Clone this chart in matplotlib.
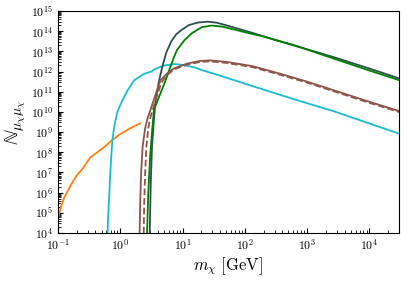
import numpy as np
import matplotlib
matplotlib.use("Agg")
import matplotlib.pyplot as plt
from matplotlib.ticker import LogLocator, FuncFormatter, NullFormatter

plt.rcParams['mathtext.fontset'] = 'cm'
plt.rcParams['font.family'] = 'serif'

# log10(m_chi / GeV) and log10(N)
orange_lm = [-1.0, -0.95, -0.9, -0.85, -0.78, -0.7, -0.6, -0.48, -0.3, -0.13, 0.0, 0.15, 0.32]
orange_lN = [4.75, 5.3, 5.75, 6.05, 6.45, 6.85, 7.2, 7.75, 8.15, 8.6, 8.9, 9.17, 9.43]

cyan_lm = [-0.207, -0.203, -0.195, -0.18, -0.16, -0.14, -0.127, -0.09, -0.046, 0.035,
           0.12, 0.225, 0.38, 0.5, 0.55, 0.62, 0.71, 0.87, 1.0, 1.2, 1.31, 1.6,
           2.12, 2.82, 3.42, 4.48]
cyan_lN = [3.5, 4.0, 4.8, 5.7, 7.0, 8.0, 8.6, 9.4, 10.0, 10.58,
           11.08, 11.57, 11.88, 12.0, 12.1, 12.2, 12.3, 12.37, 12.33, 12.2, 12.07, 11.8,
           11.28, 10.6, 10.04, 8.92]

slate_lm = [0.47, 0.473, 0.49, 0.51, 0.54, 0.565, 0.62, 0.68, 0.74, 0.82, 0.9, 0.98,
            1.1, 1.25, 1.4, 1.55, 1.75, 2.12, 2.5, 3.0, 3.42, 4.0, 4.48]
slate_lN = [3.5, 4.0, 6.5, 8.3, 9.6, 10.5, 11.5, 12.3, 12.95, 13.5, 13.85, 14.05,
            14.3, 14.43, 14.47, 14.42, 14.25, 13.92, 13.55, 13.1, 12.72, 12.15, 11.66]

green_lm = [0.427, 0.43, 0.45, 0.48, 0.51, 0.54, 0.63, 0.72, 0.86, 0.91, 1.03, 1.15,
            1.31, 1.47, 1.65, 2.0, 2.28, 2.8, 3.42, 4.0, 4.48]
green_lN = [3.5, 4.0, 6.0, 7.8, 9.0, 10.09, 10.8, 11.5, 12.7, 13.06, 13.55, 13.9,
            14.2, 14.28, 14.22, 13.95, 13.75, 13.3, 12.65, 12.05, 11.57]

brown_lm = [0.308, 0.311, 0.32, 0.335, 0.36, 0.4, 0.44, 0.484, 0.55, 0.645, 0.75, 0.86,
            1.08, 1.29, 1.45, 1.7, 2.12, 2.5, 3.0, 3.42, 4.0, 4.48]
brown_lN = [3.5, 4.0, 5.5, 7.0, 8.3, 9.2, 9.7, 10.09, 10.7, 11.57, 11.9, 12.15,
            12.4, 12.53, 12.55, 12.48, 12.27, 11.95, 11.5, 11.08, 10.5, 10.04]

brownd_lm = [0.373, 0.376, 0.385, 0.4, 0.42, 0.45, 0.49, 0.52, 0.58, 0.66, 0.75, 0.86,
             1.08, 1.29, 1.45, 1.7, 2.12, 2.5, 3.0, 3.42, 4.0, 4.48]
brownd_lN = [3.5, 4.0, 5.5, 7.0, 8.3, 9.2, 9.8, 10.09, 10.7, 11.45, 11.82, 12.1,
             12.35, 12.48, 12.5, 12.43, 12.22, 11.9, 11.45, 11.03, 10.45, 9.99]


def unlog(a):
    return 10.0 ** np.array(a)


fig = plt.figure(figsize=(4.07, 2.82), dpi=100)
ax = fig.add_axes([0.1425, 0.174, 0.838, 0.787])

lw = 1.3
ax.plot(unlog(orange_lm), unlog(orange_lN), color='#ff7f0e', lw=lw)
ax.plot(unlog(cyan_lm), unlog(cyan_lN), color='#17becf', lw=lw)
ax.plot(unlog(slate_lm), unlog(slate_lN), color='#2f4f4f', lw=lw)
ax.plot(unlog(green_lm), unlog(green_lN), color='green', lw=lw)
ax.plot(unlog(brown_lm), unlog(brown_lN), color='#8c564b', lw=lw)
ax.plot(unlog(brownd_lm), unlog(brownd_lN), color='#8c564b', lw=lw, ls='--')

ax.set_xscale('log')
ax.set_yscale('log')
ax.set_xlim(1e-1, 3e4)
ax.set_ylim(1e4, 1e15)

fmt = FuncFormatter(lambda v, p: r'$10^{%d}$' % round(np.log10(v)))
ax.xaxis.set_major_locator(LogLocator(base=10, numticks=20))
ax.yaxis.set_major_locator(LogLocator(base=10, numticks=20))
ax.xaxis.set_minor_locator(LogLocator(base=10, subs=np.arange(2, 10), numticks=20))
ax.yaxis.set_minor_locator(LogLocator(base=10, subs=np.arange(2, 10), numticks=20))
ax.xaxis.set_major_formatter(fmt)
ax.yaxis.set_major_formatter(fmt)
ax.xaxis.set_minor_formatter(NullFormatter())
ax.yaxis.set_minor_formatter(NullFormatter())
ax.tick_params(which='both', direction='in', labelsize=8.5)
ax.tick_params(which='major', length=3.5)
ax.tick_params(which='minor', length=2)

ax.set_xlabel(r'$m_\chi\ [\mathrm{GeV}]$', fontsize=12, labelpad=2)
ax.set_ylabel(r'$\mathbb{N}_{\mu_\chi\mu_\chi}$', fontsize=14, labelpad=2)

fig.savefig('out.png', dpi=100)
